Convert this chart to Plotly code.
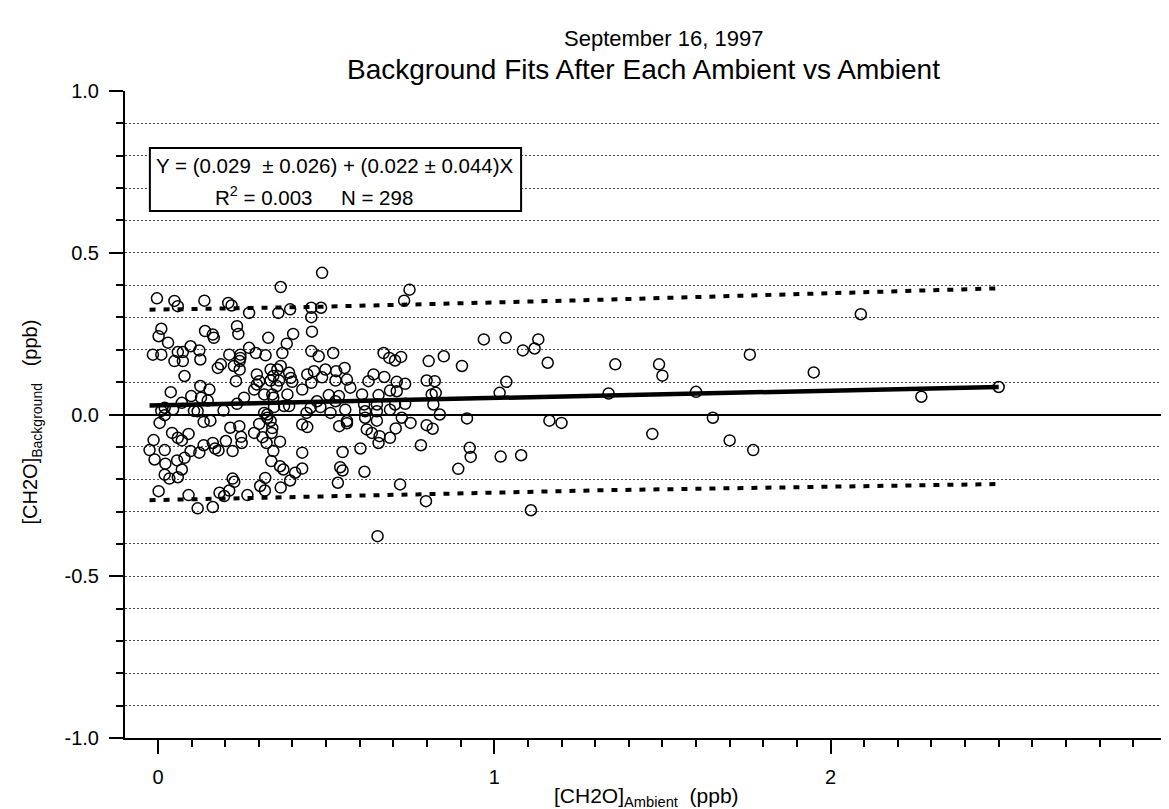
import plotly.graph_objects as go

# ---------------- data ----------------
# group A: x < 0.11
a_x = [-0.003, 0.049, 0.059, 0.010, 0.002, 0.030, -0.015, 0.010, 0.059, 0.074, 0.049, 0.074, 0.097, 0.079,
       0.038, 0.099, 0.071, 0.107, 0.045, 0.010, 0.020, 0.005, 0.020, -0.013, -0.025, -0.010, 0.020, 0.022,
       0.020, 0.034, 0.002, 0.042, 0.059, 0.071, 0.091, 0.057, 0.071, 0.059, 0.079, 0.097, 0.091]
a_y = [0.359, 0.351, 0.335, 0.265, 0.242, 0.222, 0.185, 0.185, 0.193, 0.193, 0.165, 0.165, 0.211, 0.119,
       0.069, 0.057, 0.036, 0.011, 0.016, 0.011, 0.021, -0.026, -0.002, -0.079, -0.110, -0.139, -0.110, -0.152,
       -0.186, -0.198, -0.237, -0.057, -0.072, -0.080, -0.060, -0.142, -0.170, -0.194, -0.134, -0.113, -0.249]

# group B: 0.11 <= x < 0.25
b_x = [0.138, 0.209, 0.219, 0.123, 0.126, 0.140, 0.166, 0.163, 0.126, 0.153, 0.128, 0.148, 0.178, 0.187,
       0.212, 0.235, 0.239, 0.226, 0.245, 0.245, 0.243, 0.243, 0.232, 0.235, 0.118, 0.123, 0.136, 0.136,
       0.156, 0.163, 0.170, 0.180, 0.202, 0.215, 0.222, 0.242, 0.247, 0.249, 0.118, 0.163, 0.183, 0.197,
       0.212, 0.222, 0.227, 0.195]
b_y = [0.352, 0.345, 0.337, 0.198, 0.170, 0.258, 0.237, 0.247, 0.088, 0.077, 0.052, 0.043, 0.144, 0.155,
       0.185, 0.273, 0.249, 0.150, 0.175, 0.185, 0.165, 0.139, 0.103, 0.033, 0.010, -0.118, -0.095, -0.023,
       -0.019, -0.088, -0.105, -0.111, -0.082, -0.041, -0.113, -0.036, -0.069, -0.088, -0.290, -0.286, -0.242,
       -0.252, -0.235, -0.198, -0.208, 0.012]

# group C: 0.25 <= x < 0.45
c_x = [0.271, 0.365, 0.358, 0.393, 0.256, 0.271, 0.291, 0.294, 0.286, 0.294, 0.301, 0.320, 0.328, 0.316,
       0.340, 0.335, 0.355, 0.335, 0.360, 0.343, 0.365, 0.353, 0.370, 0.383, 0.402, 0.390, 0.395, 0.399,
       0.385, 0.375, 0.390, 0.429, 0.444, 0.343, 0.345,
       0.266, 0.286, 0.301, 0.311, 0.323, 0.304, 0.319, 0.318, 0.325, 0.335, 0.338, 0.343, 0.337, 0.363,
       0.363, 0.373, 0.365, 0.393, 0.408, 0.429, 0.429, 0.429, 0.444, 0.442, 0.316, 0.325, 0.340]
c_y = [0.314, 0.394, 0.314, 0.325, 0.052, 0.206, 0.190, 0.124, 0.077, 0.093, 0.103, 0.183, 0.237, 0.062,
       0.062, 0.139, 0.139, 0.105, 0.105, 0.119, 0.150, 0.088, 0.190, 0.219, 0.249, 0.129, 0.113, 0.101,
       0.062, 0.026, 0.026, 0.077, 0.124, 0.052, 0.023,
       -0.249, -0.057, -0.029, -0.070, -0.088, -0.221, -0.196, -0.235, 0.000, -0.020, -0.057, -0.113, -0.144,
       -0.084, -0.160, -0.170, -0.226, -0.204, -0.180, -0.118, -0.167, -0.031, -0.039, 0.005, 0.005, -0.010,
       -0.042]

# group D: 0.45 <= x < 1.25
d_x = [0.488, 0.748, 0.732, 0.456, 0.485, 0.456, 0.458, 0.969, 1.034, 1.131, 1.085, 1.120, 1.159, 0.456,
       0.478, 0.521, 0.671, 0.688, 0.705, 0.723, 0.805, 0.850, 0.904, 1.036, 1.016, 0.464, 0.498, 0.530,
       0.555, 0.488, 0.562, 0.528, 0.456, 0.572, 0.626, 0.641, 0.673, 0.710, 0.735, 0.799, 0.823, 0.690,
       0.710, 0.607, 0.656, 0.508, 0.538, 0.814, 0.826, 0.473, 0.528, 0.613, 0.651, 0.705, 0.735, 0.819,
       0.454, 0.483, 0.557, 0.616, 0.651, 0.690, 0.513, 0.562, 0.651, 0.725, 0.838, 0.919, 1.164, 1.200,
       0.751, 0.539, 0.799, 0.817, 0.621, 0.707, 0.636, 0.659, 0.690, 0.656, 0.782, 0.549, 0.602, 0.927,
       1.019, 1.080, 0.930, 0.542, 0.549, 0.614, 0.535, 0.720, 0.893, 0.797, 1.109, 0.653, 0.616, 0.562]
d_y = [0.438, 0.386, 0.352, 0.330, 0.330, 0.301, 0.256, 0.232, 0.237, 0.232, 0.198, 0.204, 0.160, 0.196,
       0.180, 0.190, 0.190, 0.175, 0.167, 0.178, 0.165, 0.180, 0.150, 0.101, 0.067, 0.134, 0.139, 0.134,
       0.144, 0.115, 0.108, 0.105, 0.098, 0.083, 0.103, 0.124, 0.116, 0.101, 0.095, 0.105, 0.103, 0.074,
       0.072, 0.062, 0.060, 0.060, 0.057, 0.062, 0.067, 0.041, 0.041, 0.031, 0.031, 0.031, 0.033, 0.031,
       0.021, 0.023, 0.015, 0.010, 0.010, 0.015, 0.005, -0.020, -0.019, -0.010, 0.000, -0.012, -0.019, -0.026,
       -0.026, -0.036, -0.033, -0.044, -0.046, -0.043, -0.057, -0.067, -0.072, -0.088, -0.095, -0.116, -0.105, -0.103,
       -0.130, -0.126, -0.131, -0.163, -0.173, -0.177, -0.211, -0.216, -0.168, -0.268, -0.296, -0.376, -0.010, -0.027]

# group E: x >= 1.3
e_x = [1.34, 1.36, 1.47, 1.49, 1.50, 1.60, 1.65, 1.70, 1.76, 1.77, 1.95, 2.09, 2.27, 2.50]
e_y = [0.065, 0.155, -0.060, 0.155, 0.120, 0.070, -0.010, -0.080, 0.185, -0.110, 0.130, 0.310, 0.055, 0.085]

# regression line and confidence bands
fit_x = [-0.025, 2.50]
fit_y = [0.028, 0.085]
band_x = [-0.025, 0.44, 1.33, 2.50]
band_upper = [0.324, 0.332, 0.355, 0.390]
band_lower = [-0.265, -0.254, -0.234, -0.215]

# axis ticks
x_tickvals = [0, 1, 2, 3]
x_ticktext = ["0", "1", "2", "3"]
y_tickvals = [-1.0, -0.5, 0.0, 0.5, 1.0]
y_ticktext = ["-1.0", "-0.5", "0.0", "0.5", "1.0"]

title_lines = ["September 16, 1997", "Background Fits After Each Ambient vs Ambient"]
fit_text = ["Y = (0.029\u00a0\u00a0\u00b1 0.026) + (0.022 \u00b1 0.044)X",
            "R<sup>2</sup> = 0.003\u00a0\u00a0\u00a0\u00a0\u00a0N = 298"]

# ---------------- figure ----------------
FONT = "Liberation Sans, Arial, Helvetica, sans-serif"
pts_x = a_x + b_x + c_x + d_x + e_x
pts_y = a_y + b_y + c_y + d_y + e_y

fig = go.Figure()
fig.add_trace(go.Scatter(x=band_x, y=band_upper, mode="lines",
                         line=dict(color="black", width=4, dash="6px,8px"), hoverinfo="skip"))
fig.add_trace(go.Scatter(x=band_x, y=band_lower, mode="lines",
                         line=dict(color="black", width=4, dash="6px,8px"), hoverinfo="skip"))
fig.add_trace(go.Scatter(x=fit_x, y=fit_y, mode="lines",
                         line=dict(color="black", width=4.5), hoverinfo="skip"))
fig.add_trace(go.Scatter(x=pts_x, y=pts_y, mode="markers",
                         marker=dict(symbol="circle-open", size=11, color="black",
                                     line=dict(color="black", width=1.5))))

L, R, T, B = 117, 5, 83, 79
W, H = 1169, 809
pw, ph = W - L - R, H - T - B


def px(xp):
    return (xp - L) / pw


def py(yp):
    return (H - B - yp) / ph


GRID = dict(gridcolor="#4a4a4a", gridwidth=1, griddash="2px,2px")

fig.update_layout(
    width=W, height=H,
    margin=dict(l=L, r=R, t=T, b=B),
    paper_bgcolor="white", plot_bgcolor="white",
    showlegend=False,
    font=dict(family=FONT, color="black", size=20),
    xaxis=dict(range=[-0.098, 3.0005], tickmode="array", tickvals=x_tickvals, ticktext=x_ticktext,
               showline=True, linecolor="black", linewidth=2,
               ticks="outside", ticklen=14, tickwidth=2, tickcolor="black",
               ticklabelstandoff=6, ticklabeloverflow="allow",
               showgrid=False, zeroline=False,
               minor=dict(dtick=0.1, tick0=0, ticks="outside", ticklen=7, tickwidth=2,
                          tickcolor="black", showgrid=False),
               tickfont=dict(size=20)),
    yaxis=dict(range=[-1, 1], tickmode="array", tickvals=y_tickvals, ticktext=y_ticktext,
               showline=True, linecolor="black", linewidth=2,
               ticks="outside", ticklen=14, tickwidth=2, tickcolor="black",
               ticklabelstandoff=6,
               showgrid=True, **GRID,
               zeroline=True, zerolinecolor="black", zerolinewidth=2,
               minor=dict(dtick=0.1, tick0=0, ticks="outside", ticklen=7, tickwidth=2,
                          tickcolor="black", showgrid=True, **GRID),
               tickfont=dict(size=20)),
)

# fit-result box
fig.add_shape(type="rect", xref="paper", yref="paper",
              x0=px(142), x1=px(515), y0=py(203), y1=py(140),
              line=dict(color="black", width=2), fillcolor="white", layer="above")
fig.add_annotation(text=fit_text[0], xref="paper", yref="paper", x=px(146), y=py(157),
                   xanchor="left", yanchor="middle", showarrow=False, font=dict(size=20.5))
fig.add_annotation(text=fit_text[1], xref="paper", yref="paper", x=px(205), y=py(188),
                   xanchor="left", yanchor="middle", showarrow=False, font=dict(size=20.5))

# title
fig.add_annotation(text=title_lines[0], xref="paper", yref="paper", x=px(658), y=py(31),
                   xanchor="center", yanchor="middle", showarrow=False, font=dict(size=22))
fig.add_annotation(text=title_lines[1], xref="paper", yref="paper", x=px(638), y=py(61),
                   xanchor="center", yanchor="middle", showarrow=False, font=dict(size=28))

# axis titles
fig.add_annotation(text="[CH2O]<sub>Ambient</sub>\u00a0\u00a0(ppb)", xref="paper", yref="paper",
                   x=px(641), y=py(804), xanchor="center", yanchor="bottom",
                   showarrow=False, font=dict(size=21))
fig.add_annotation(text="[CH2O]<sub>Background</sub>\u00a0\u00a0\u00a0(ppb)", xref="paper", yref="paper",
                   x=px(24), y=py(414), xanchor="center", yanchor="middle", textangle=-90,
                   showarrow=False, font=dict(size=20))

fig.write_html("out.html")
